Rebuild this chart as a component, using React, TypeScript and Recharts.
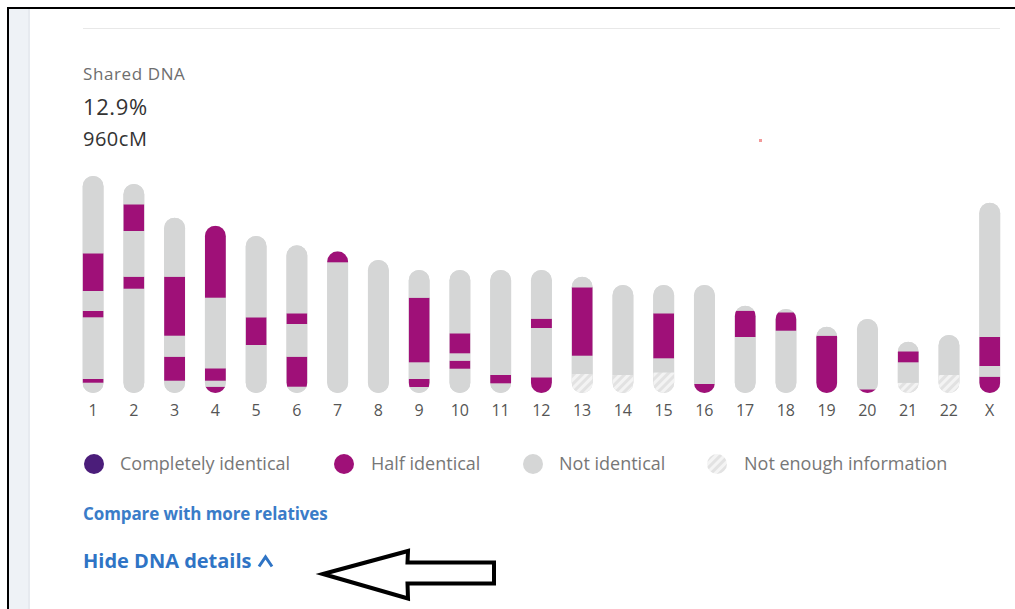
import React from "react";
import { BarChart, Bar, XAxis, YAxis } from "recharts";

type SegType = "n" | "h" | "c" | "u"; // not identical, half, completely, not enough info

const CHROMOSOMES = [
  "1", "2", "3", "4", "5", "6", "7", "8", "9", "10", "11", "12",
  "13", "14", "15", "16", "17", "18", "19", "20", "21", "22", "X",
];

// segments per chromosome, read top to bottom, lengths in chart units
const SEGMENTS: [SegType, number][][] = [
  [["n", 77.3], ["h", 37.7], ["n", 20], ["h", 6.3], ["n", 61.7], ["h", 3.7], ["n", 10.3]],
  [["n", 20.3], ["h", 26.7], ["n", 45.7], ["h", 12], ["n", 104.3]],
  [["n", 59], ["h", 59], ["n", 21], ["h", 24], ["n", 12.3]],
  [["h", 72], ["n", 70.6], ["h", 12.4], ["n", 6], ["h", 6.3]],
  [["n", 81.3], ["h", 27.7], ["n", 48]],
  [["n", 68], ["h", 10.7], ["n", 32.7], ["h", 30], ["n", 6.3]],
  [["h", 11], ["n", 130.7]],
  [["n", 133]],
  [["n", 27.7], ["h", 64.6], ["n", 16.7], ["h", 8], ["n", 6]],
  [["n", 63.3], ["h", 20], ["n", 7.4], ["h", 8], ["n", 24.3]],
  [["n", 105], ["h", 8.3], ["n", 9.7]],
  [["n", 48.7], ["h", 9.3], ["n", 49.3], ["h", 15.7]],
  [["n", 10.6], ["h", 68.4], ["n", 18.3], ["u", 19]],
  [["n", 90], ["u", 18]],
  [["n", 28.3], ["h", 45], ["n", 14], ["u", 20.7]],
  [["n", 99], ["h", 9]],
  [["n", 5], ["h", 26.3], ["n", 56]],
  [["n", 3.3], ["h", 18.4], ["n", 62.3]],
  [["n", 9], ["h", 57.3]],
  [["n", 70.3], ["h", 3.7]],
  [["n", 9.6], ["h", 11], ["n", 20.4], ["u", 10.3]],
  [["n", 40], ["u", 18]],
  [["n", 134.3], ["h", 29], ["n", 10.7], ["h", 16.3]],
];

const LEGEND_LABELS = ["Completely identical", "Half identical", "Not identical", "Not enough information"];

const COMPLETE = "#4b1d7a";
const HALF = "#9f1078";
const NOT = "#d5d6d6";
const FONT = "'Open Sans', sans-serif";

const MAX_SEGS = Math.max(...SEGMENTS.map((s) => s.length));

const rows = CHROMOSOMES.map((name, i) => {
  const segs = [...SEGMENTS[i]].reverse(); // stack grows from the bottom
  const row: Record<string, any> = { name, total: segs.reduce((a, s) => a + s[1], 0) };
  for (let k = 0; k < MAX_SEGS; k++) {
    row[`s${k}`] = segs[k] ? segs[k][1] : 0;
    row[`t${k}`] = segs[k] ? segs[k][0] : "n";
  }
  return row;
});

const fillFor = (t: SegType) =>
  t === "h" ? HALF : t === "c" ? COMPLETE : t === "u" ? "url(#hatch)" : NOT;

const PillShape = (props: any) => {
  const { x, y, width, height, payload } = props;
  const r = width / 2;
  return (
    <g>
      <defs>
        <clipPath id={`pill-${payload.name}`}>
          <rect x={x} y={y} width={width} height={height} rx={r} ry={r} />
        </clipPath>
      </defs>
      <rect x={x} y={y} width={width} height={height} rx={r} ry={r} fill={NOT} />
    </g>
  );
};

const segShape = (k: number) => (props: any) => {
  const { x, y, width, height, payload } = props;
  if (!height || height <= 0) return <g />;
  return (
    <rect
      x={x}
      y={y}
      width={width}
      height={height}
      fill={fillFor(payload[`t${k}`])}
      clipPath={`url(#pill-${payload.name})`}
    />
  );
};

const legendX = [[94, 120], [344, 371], [533, 559], [717, 744]];

function LegendDot({ kind }: { kind: number }) {
  if (kind === 3) {
    return (
      <svg width={20} height={20}>
        <defs>
          <pattern id="hatch-legend" width="6" height="6" patternUnits="userSpaceOnUse" patternTransform="rotate(45)">
            <rect width="6" height="6" fill="#e2e2e2" />
            <rect width="3" height="6" fill="#f4f4f4" />
          </pattern>
        </defs>
        <circle cx={10} cy={10} r={10} fill="url(#hatch-legend)" />
      </svg>
    );
  }
  const c = [COMPLETE, HALF, NOT][kind];
  return (
    <svg width={20} height={20}>
      <circle cx={10} cy={10} r={10} fill={c} />
    </svg>
  );
}

export default function App() {
  return (
    <div
      style={{
        position: "absolute",
        left: 0,
        top: 0,
        width: 1015,
        height: 609,
        background: "#fff",
        overflow: "hidden",
        fontFamily: FONT,
      }}
    >
      <div style={{ position: "absolute", left: 9, top: 9, width: 21, height: 600, background: "#eef2f6" }} />
      <div style={{ position: "absolute", left: 28, top: 9, width: 2, height: 600, background: "#e6eaef" }} />
      <div style={{ position: "absolute", left: 7, top: 7, width: 1008, height: 2, background: "#000" }} />
      <div style={{ position: "absolute", left: 7, top: 7, width: 2, height: 602, background: "#000" }} />
      <div style={{ position: "absolute", left: 83, top: 28, width: 917, height: 1, background: "#e8e8e8" }} />
      <div style={{ position: "absolute", left: 759, top: 139, width: 3, height: 3, background: "#f29a9a" }} />

      <div
        style={{ position: "absolute", left: 83, top: 64.9, fontSize: 17, lineHeight: "17px", letterSpacing: 0.6, color: "#6e6e6e" }}
      >
        Shared DNA
      </div>
      <div
        style={{ position: "absolute", left: 83, top: 94.5, fontSize: 22, lineHeight: "22px", letterSpacing: 0.6, color: "#333" }}
      >
        12.9%
      </div>
      <div
        style={{ position: "absolute", left: 83, top: 128.9, fontSize: 20, lineHeight: "20px", letterSpacing: 0.5, color: "#333" }}
      >
        960cM
      </div>

      <div style={{ position: "absolute", left: 0, top: 0 }}>
        <BarChart
          width={1015}
          height={430}
          data={rows}
          margin={{ top: 143, right: 5, bottom: 7, left: 72.6 }}
          barSize={21}
        >
          <defs>
            <pattern id="hatch" width="6" height="6" patternUnits="userSpaceOnUse" patternTransform="rotate(45)">
              <rect width="6" height="6" fill="#e2e2e2" />
              <rect width="3" height="6" fill="#f3f3f3" />
            </pattern>
          </defs>
          <YAxis hide domain={[0, 250]} />
          <XAxis
            xAxisId="seg"
            dataKey="name"
            axisLine={false}
            tickLine={false}
            interval={0}
            tickMargin={6}
            height={30}
            tick={{ fontSize: 16, fill: "#555" }}
          />
          <XAxis xAxisId="bg" dataKey="name" hide height={0} />
          <Bar xAxisId="bg" dataKey="total" shape={PillShape} isAnimationActive={false} />
          {Array.from({ length: MAX_SEGS }, (_, k) => (
            <Bar
              key={k}
              xAxisId="seg"
              dataKey={`s${k}`}
              stackId="dna"
              shape={segShape(k)}
              isAnimationActive={false}
            />
          ))}
        </BarChart>
      </div>

      {LEGEND_LABELS.map((label, i) => (
        <React.Fragment key={label}>
          <div style={{ position: "absolute", left: legendX[i][0] - 10, top: 453.5 }}>
            <LegendDot kind={i} />
          </div>
          <div
            style={{
              position: "absolute",
              left: legendX[i][1],
              top: 454,
              fontSize: 18,
              lineHeight: "18px",
              color: "#777",
              whiteSpace: "nowrap",
            }}
          >
            {label}
          </div>
        </React.Fragment>
      ))}

      <div
        style={{
          position: "absolute",
          left: 83,
          top: 504.9,
          fontSize: 17,
          lineHeight: "17px",
          fontWeight: 700,
          letterSpacing: -0.1,
          color: "#3a7cc8",
          whiteSpace: "nowrap",
        }}
      >
        Compare with more relatives
      </div>
      <div
        style={{
          position: "absolute",
          left: 83,
          top: 550.5,
          fontSize: 20,
          lineHeight: "20px",
          fontWeight: 700,
          color: "#2f74c5",
          whiteSpace: "nowrap",
        }}
      >
        Hide DNA details
      </div>
      <svg style={{ position: "absolute", left: 0, top: 0 }} width={1015} height={609}>
        <polyline points="259,566.5 265.5,557 272,566.5" fill="none" stroke="#2f74c5" strokeWidth={3} />
        <polygon
          points="323,574 408,551 407.5,562.5 494,562.5 494,583.5 407.5,583.5 408,598.5"
          fill="#fff"
          stroke="#000"
          strokeWidth={4}
          strokeLinejoin="miter"
        />
      </svg>
    </div>
  );
}
